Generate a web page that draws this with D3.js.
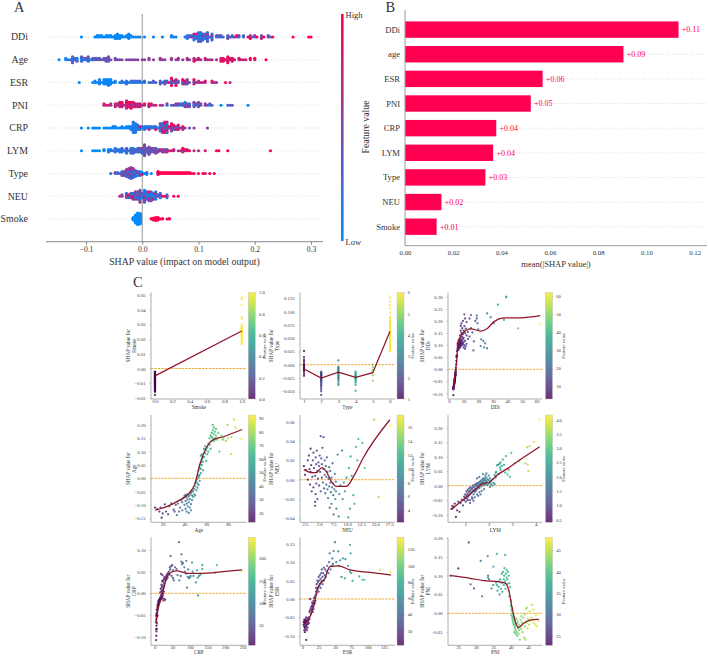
<!DOCTYPE html>
<html>
<head>
<meta charset="utf-8">
<script src="https://cdnjs.cloudflare.com/ajax/libs/d3/7.8.5/d3.min.js"></script>
<style>
html,body{margin:0;padding:0;background:#fff}
svg{display:block}
text{font-family:"Liberation Serif",serif;fill:#333}
</style>
</head>
<body>
<svg id="fig" width="708" height="656"></svg>
<script>
// Feature names, ordered by importance
const featureOrder = ["DDi","Age","ESR","PNI","CRP","LYM","Type","NEU","Smoke"];
const barOrder = ["DDi","age","ESR","PNI","CRP","LYM","Type","NEU","Smoke"];
const meanShap = [0.1133,0.0905,0.0570,0.0521,0.0378,0.0365,0.0333,0.0151,0.0131];
const swarmTicks = [-0.1,0,0.1,0.2,0.3];
const barTicks = [0,0.02,0.04,0.06,0.08,0.10,0.12];

// Per-sample [feature value, SHAP value]
const ddiPoints = [[3,-.107],[3,-.083],[3,-.081],[3,-.079],[3,-.077],[3,-.075],[3.2,-.073],[3.2,-.071],[3.3,-.069],[3.3,-.066],[3.5,-.064],[3.5,-.062],[3.6,-.06],[3.6,-.058],[3.8,-.056],[3.8,-.053],[3.8,-.05],[3.9,-.048],[4,-.047],[4,-.046],[4,-.045],[4,-.044],[4,-.043],[4,-.042],[4,-.041],[4,-.04],[4.1,-.038],[4.1,-.036],[4.2,-.034],[4.2,-.03],[4.3,-.027],[4.3,-.026],[4.3,-.025],[4.3,-.024],[4.3,-.023],[4.4,-.022],[4.4,-.02],[4.5,-.016],[4.5,-.014],[4.5,-.01],[4.7,-.005],[4.8,.005],[5,.02],[5,.035],[5.2,.05],[5.2,.052],[5.3,.055],[5.4,.058],[5.5,.075],[6,.08],[6,.085],[6,.092],[6,.098],[6,.103],[6,.108],[6.5,.08],[6.5,.09],[6.5,.1],[6.5,.105],[6.5,.112],[6.5,.118],[7,.088],[7,.095],[7,.1],[7,.103],[7,.107],[7,.115],[7,.125],[7.5,.09],[7.5,.098],[7.5,.105],[7.5,.11],[7.5,.12],[7.5,.14],[8,.095],[8,.1],[8,.104],[8,.108],[8,.115],[8,.13],[8,.16],[8,.18],[8.5,.11],[8.5,.122],[8.5,.15],[8.5,.19],[9,.1],[9,.108],[9,.118],[9,.135],[9,.17],[9.5,.105],[9.5,.125],[9.5,.145],[9.5,.2],[10,.09],[10,.112],[10,.13],[10,.16],[10.5,.1],[10.5,.178],[10.5,.227],[11,.085],[11,.118],[11,.15],[11,.21],[11.5,.095],[11.5,.168],[12,.105],[12,.14],[12,.195],[13,.125],[13,.155],[14,.135],[14,.21],[15,.224],[15,.17],[16,.152],[16.7,.078],[17,.115],[18,.2],[19,.222],[19,.21],[19.5,.19],[20,.165],[21.7,.096],[22,.124],[23.5,.117],[24,.091],[24.7,.107],[26,.087],[26,.231],[28.5,.215],[30.8,.19],[37.6,.204],[33.5,.267],[39,.297],[39.2,.3],[47.3,.169],[62,.189]];
const agePoints = [[13,-.11],[15,-.116],[17,-.125],[18,-.11],[19,-.148],[20,-.132],[22,-.098],[23,-.125],[25,-.135],[26,-.105],[28,-.094],[30,-.118],[31,-.125],[32,-.1],[33,-.138],[34,-.095],[35,-.125],[36,-.11],[37,-.083],[38,-.12],[38,-.09],[39,-.075],[40,-.1],[40,-.066],[41,-.115],[41,-.085],[41,-.062],[42,-.125],[42,-.095],[42,-.072],[43,-.105],[43,-.08],[43,-.06],[44,-.13],[44,-.09],[44,-.068],[45,-.11],[45,-.078],[45,-.062],[46,-.097],[46,-.12],[46,-.055],[47,-.082],[47,-.065],[47,-.05],[48,-.07],[48,-.048],[49,-.06],[49,-.04],[50,-.065],[50,-.03],[50,-.018],[51,-.045],[51,-.012],[52,-.035],[52,-.02],[52,-.002],[53,-.025],[53,.005],[53,.01],[53,.03],[54,-.01],[54,.012],[54,.04],[54,.05],[55,.02],[55,.06],[55,.035],[55,.085],[56,.05],[56,.07],[56,.09],[57,.03],[57,.062],[57,.078],[58,.08],[58,.11],[59,.095],[59,.12],[60,.105],[60,.065],[61,.115],[61,.09],[62,.13],[62,.1],[63,.15],[63,.125],[64,.16],[64,.11],[65,.17],[65,.14],[65,.155],[66,.18],[66,.15],[66,.2],[67,.19],[67,.165],[67,.14],[68,.175],[68,.15],[68,.145],[69,.16],[69,.185],[70,.145],[71,.17],[72,.1],[74,.16],[75,.145],[76,.15],[78,.14],[79.6,.2],[80,.15],[82.7,.091],[83,.155],[85.7,.221],[87,.19],[92.5,.1475]];
const esrPoints = [[2,-.062],[2,-.07],[3,-.056],[3,-.065],[3,-.075],[3,-.085],[4,-.06],[4,-.068],[4,-.078],[4,-.09],[5,-.055],[5,-.063],[5,-.072],[5,-.082],[6,-.05],[6,-.06],[6,-.066],[6,-.075],[6,-.111],[7,-.058],[7,-.07],[7,-.085],[8,-.053],[8,-.062],[8,-.078],[9,-.06],[9,-.068],[10,-.05],[10,-.065],[11,-.055],[12,0],[11,-.035],[12,-.03],[13,-.025],[13,-.04],[14,-.02],[14,-.032],[15,-.018],[15,-.028],[15,-.01],[16,-.022],[16,-.012],[16,-.035],[17,-.015],[17,-.005],[17,-.027],[18,-.01],[18,.002],[19,-.012],[19,.005],[20,.01],[20,-.005],[21,.02],[21,.03],[22,.015],[22,.04],[23,.025],[23,.05],[24,.03],[24,.045],[25,.02],[25,.06],[26,.035],[26,.05],[27,.04],[27,.065],[28,.03],[28,.055],[29,.045],[29,.07],[30,.05],[30,.08],[31,.04],[31,.06],[32,.07],[33,.05],[33,.085],[34,.065],[35,.08],[36,.06],[37,.075],[38,.09],[40,.07],[41,.1],[42,.124],[43,.08],[45,.09],[46,.11],[47,.095],[48,.13],[50,.154],[52,.1],[55,.129],[56,.09],[58,.105],[60,.06],[62,.11],[65,.056],[66,.108],[70,.09],[73,.147],[74,.124],[73,.074],[75,.07],[77,.049],[87,.061],[92,.052],[95,.052],[119,.079],[135,.074]];
const pniPoints = [[22.8,.1],[25,.119],[28,.188],[28.5,.077],[29.5,.066],[31.4,.139],[31.8,.045],[33.4,.152],[33.5,.1],[33.5,.095],[33.8,.09],[34.5,.066],[35,.124],[35,.075],[36,.158],[35.8,.082],[36,.075],[36.2,.06],[36.5,.07],[36.6,.085],[36.8,.05],[37,.09],[37.2,.065],[37.4,.105],[37.4,.08],[37.6,.057],[37.8,.11],[38,.09],[38,.075],[38.1,.1],[38.2,.12],[38.4,.155],[38.4,.085],[38.5,.065],[38.6,.105],[38.8,.115],[38.8,.095],[39,.078],[39,.09],[39.2,.11],[39.4,.06],[39.4,.1],[39.5,.045],[39.6,.08],[39.8,.07],[40,.035],[40,.02],[40.1,.03],[40.2,.01],[40.2,-.005],[40.3,.005],[40.4,-.01],[40.4,.015],[40.5,-.015],[40.5,-.02],[40.6,-.002],[40.7,-.025],[40.8,-.008],[40.8,-.03],[41,-.012],[41,-.035],[41,-.05],[41.1,-.02],[41.2,-.04],[41.2,-.028],[41.4,-.045],[41.4,-.055],[41.5,-.033],[41.6,-.015],[41.7,-.05],[41.8,-.027],[41.8,-.06],[42,-.04],[42,-.022],[42.2,-.055],[42.2,-.035],[42.4,-.045],[42.5,-.03],[42.6,-.07],[42.8,-.018],[43,-.042],[43,-.008],[43.2,-.025],[43.4,-.05],[43.5,-.012],[43.8,-.065],[44,-.035],[44,-.003],[44.2,-.07],[44.3,.012],[44.5,-.025],[44.6,.015],[44.8,-.04],[45,-.015],[45.2,-.03],[45.4,.005],[45.6,-.02],[46,.022],[46,-.012],[46.3,.01],[46.5,-.025],[47,-.03],[47.2,-.005],[47.5,-.035],[48,-.02]];
const crpPoints = [[4,-.108],[4.5,-.098],[5,-.088],[4,-.083],[5,-.075],[6,-.082],[6,-.07],[5,-.066],[5,-.06],[6,-.055],[7,-.05],[4,-.052],[5,-.048],[6,-.045],[7,-.04],[6,-.038],[8,-.052],[9,-.035],[8,-.032],[10,-.03],[8,-.028],[9,-.025],[11,-.025],[12,-.022],[10,-.02],[13,-.02],[11,-.018],[14,-.017],[12,-.016],[15,-.016],[13,-.015],[16,-.015],[14,-.014],[17,-.014],[18,-.013],[15,-.012],[19,-.013],[20,-.012],[16,-.01],[21,-.01],[17,-.009],[22,-.008],[25,-.017],[27,-.013],[30,-.015],[18,-.005],[23,-.004],[20,-.002],[24,0],[16,.002],[19,.004],[26,.004],[21,.006],[23,.008],[17,.01],[25,.012],[20,.014],[27,.016],[23,.018],[19,.02],[28,.022],[25,.025],[21,.028],[24,.03],[29,.032],[26,.034],[18,.045],[22,.042],[28,.038],[31,.036],[33,.04],[30,.03],[35,.042],[34,.033],[36,.045],[38,.046],[37,.037],[40,.05],[42,.043],[44,.055],[43,.06],[45,.086],[47,.063],[50,.065],[52,.053],[48,.04],[52,.035],[54,.03],[58,.06],[62,.056],[65,.042],[69,.118],[70,.03],[74,.04],[76,.09],[76,.073],[78,.067],[80,.07],[84,.06],[86,.05],[90,.075],[90,.045],[92,.013],[94,.038],[95,.055],[97,.035],[100,.037],[102,.04],[106,.071],[108,.05],[110,.04],[117,.025],[120,.053],[122,.036],[123,-.005],[126,.04],[130,.043],[135,.065],[135,.056],[177,.065],[172,.047],[248,.052]];
const lymPoints = [[.41,-.08],[.45,-.07],[.5,-.075],[.55,-.062],[.6,-.108],[.65,-.085],[.7,-.055],[.75,-.09],[.8,-.06],[.85,-.048],[.9,-.068],[.95,-.038],[.95,-.05],[1,-.042],[1,-.03],[1.02,-.055],[1.05,-.02],[1.05,-.035],[1.08,-.045],[1.1,-.015],[1.1,-.028],[1.1,-.05],[1.12,-.038],[1.15,-.022],[1.15,-.01],[1.18,-.032],[1.2,-.018],[1.2,-.05],[1.2,-.06],[1.22,-.005],[1.25,-.026],[1.25,-.012],[1.28,-.04],[1.3,-.02],[1.3,-.008],[1.3,-.045],[1.32,0],[1.35,-.015],[1.35,-.03],[1.35,-.052],[1.38,-.005],[1.4,-.022],[1.4,.003],[1.4,-.04],[1.42,-.01],[1.45,-.018],[1.45,.005],[1.48,-.002],[1.5,-.012],[1.5,.008],[1.5,-.03],[1.5,.025],[1.52,.001],[1.55,-.006],[1.55,.01],[1.55,-.035],[1.58,.004],[1.6,-.008],[1.6,.012],[1.6,-.022],[1.6,.03],[1.62,.002],[1.65,.016],[1.65,.007],[1.65,-.03],[1.68,-.002],[1.7,.02],[1.7,.01],[1.7,-.018],[1.72,.004],[1.75,.014],[1.75,.024],[1.75,.04],[1.78,.008],[1.8,.018],[1.8,.002],[1.8,-.012],[1.82,.026],[1.85,.01],[1.85,.02],[1.85,.035],[1.88,.005],[1.9,.016],[1.9,.028],[1.9,.042],[1.92,.012],[1.95,.022],[1.95,.002],[2,.008],[2,.018],[2,.035],[2.05,.012],[2.05,.025],[2.05,-.005],[2.1,.005],[2.1,.016],[2.15,.022],[2.15,0],[2.2,.01],[2.25,.036],[2.25,.005],[2.3,.028],[2.3,.045],[2.32,.048],[2.35,.07],[2.4,.072],[2.42,.04],[2.45,.075],[2.48,.062],[2.5,.055],[2.5,.08],[2.55,.068],[2.6,.09],[2.65,.072],[2.7,.045],[2.73,.102],[2.8,.038],[2.85,.055],[2.9,.03],[2.96,.113],[3.1,.078],[3.3,.085],[3.56,.077],[3.66,.073],[3.69,.05],[3.63,.132],[3.74,.136],[3.93,.151],[4.16,.228]];
const typePoints = [[1,.026],[1,.014],[1,.009],[1,.006],[1,.002],[1,0],[1,-.002],[1,-.004],[1,-.006],[1,-.007],[1,-.009],[1,-.011],[1,-.013],[1,-.017],[1,-.021],[2,-.013],[2,-.015],[2,-.016],[2,-.017],[2,-.018],[2,-.019],[2,-.02],[2,-.021],[2,-.022],[2,-.023],[2,-.024],[2,-.025],[2,-.026],[2,-.027],[2,-.028],[2,-.029],[2,-.03],[2,-.032],[2,-.034],[2,-.036],[2,-.038],[2,-.04],[2,-.043],[2,-.046],[2,-.05],[2,-.057],[3,.008],[3,-.004],[3,-.006],[3,-.008],[3,-.01],[3,-.012],[3,-.014],[3,-.015],[3,-.016],[3,-.018],[3,-.02],[3,-.022],[3,-.024],[3,-.026],[3,-.028],[3,-.031],[3,-.035],[3,-.038],[4,-.013],[4,-.015],[4,-.017],[4,-.019],[4,-.02],[4,-.021],[4,-.022],[4,-.023],[4,-.024],[4,-.025],[4,-.026],[4,-.027],[4,-.029],[4,-.031],[4,-.034],[4,-.038],[4,-.049],[5,0],[5,-.005],[5,-.01],[5,-.014],[5,-.02],[5,-.03],[6,.026],[6,.027],[6,.029],[6,.03],[6,.032],[6,.034],[6,.036],[6,.038],[6,.04],[6,.042],[6,.044],[6,.046],[6,.048],[6,.05],[6,.052],[6,.054],[6,.056],[6,.058],[6,.06],[6,.062],[6,.064],[6,.066],[6,.068],[6,.07],[6,.072],[6,.074],[6,.076],[6,.078],[6,.08],[6,.082],[6,.085],[6,.088],[6,.09],[6,.098],[6,.106],[6,.112],[6,.119],[6,.126]];
const neuPoints = [[2.3,.014],[2.5,.005],[2.7,.01],[3,.02],[3,0],[3.2,.025],[3.3,.011],[3.4,-.005],[3.5,.032],[3.5,.008],[3.6,.015],[3.7,-.012],[3.8,.003],[3.9,.02],[4,.028],[4,-.008],[4.1,.012],[4.3,-.023],[4.3,-.027],[4.3,.004],[4.4,.023],[4.4,-.015],[4.5,.016],[4.5,-.004],[4.6,.03],[4.7,.009],[4.7,-.02],[4.8,.001],[4.9,.018],[5,.014],[5,-.006],[5.1,.025],[5.3,.045],[5.2,.008],[5.3,-.012],[5.4,.022],[5.5,.002],[5.5,.016],[5.6,.033],[5.8,.044],[5.7,-.003],[5.8,.011],[5.9,-.009],[6,.02],[6,.005],[6.1,-.014],[6.2,.014],[6.3,.003],[6.3,-.005],[6.4,.023],[6.5,-.01],[6.5,.008],[6.6,-.019],[6.7,.001],[6.8,-.007],[6.8,.013],[6.9,-.029],[7,-.003],[7,.009],[7.1,-.013],[7.2,.002],[7.2,-.025],[7.3,-.008],[7.4,.017],[7.5,-.004],[7.5,-.016],[7.6,-.036],[7.7,-.01],[7.8,.006],[7.9,-.02],[8,-.012],[8,-.002],[8.1,-.03],[8.3,.026],[8.5,-.038],[8.6,-.015],[8.8,-.006],[9.1,.03],[9.2,-.02],[9.4,-.003],[9.6,-.012],[9.9,.002],[10.2,-.039],[10.3,.012],[10.5,-.03],[10.6,.024],[10.8,.004],[11.1,-.016],[11.3,-.025],[11.6,.034],[11.8,.02],[12,.042],[12.7,.038],[13.1,.012],[14.8,.062],[15.6,-.018],[17.7,.056]];
const smokePoints = [[0,-.018],[0,-.0158],[0,-.0155],[0,-.015],[0,-.0147],[0,-.0144],[0,-.014],[0,-.0137],[0,-.0134],[0,-.013],[0,-.013],[0,-.0127],[0,-.0124],[0,-.012],[0,-.012],[0,-.0117],[0,-.0115],[0,-.0112],[0,-.011],[0,-.011],[0,-.0107],[0,-.0105],[0,-.0102],[0,-.01],[0,-.01],[0,-.0098],[0,-.0096],[0,-.0094],[0,-.0092],[0,-.009],[0,-.009],[0,-.0088],[0,-.0086],[0,-.0084],[0,-.0082],[0,-.008],[0,-.008],[0,-.0078],[0,-.0076],[0,-.0074],[0,-.0072],[0,-.007],[0,-.007],[0,-.0068],[0,-.0066],[0,-.0064],[0,-.0062],[0,-.006],[0,-.006],[0,-.0058],[0,-.0056],[0,-.0054],[0,-.0052],[0,-.005],[0,-.005],[0,-.0048],[0,-.0046],[0,-.0044],[0,-.0042],[0,-.004],[0,-.0038],[0,-.0036],[0,-.0034],[0,-.0032],[0,-.003],[0,-.0028],[0,-.0026],[0,-.0024],[0,-.0022],[1,.0166],[1,.0175],[1,.018],[1,.019],[1,.02],[1,.0205],[1,.021],[1,.022],[1,.0225],[1,.023],[1,.024],[1,.0245],[1,.025],[1,.0255],[1,.026],[1,.0265],[1,.027],[1,.0275],[1,.028],[1,.029],[1,.03],[1,.034],[1,.035],[1,.043],[1,.047],[1,.0484]];

// Smoothed trend of each dependence plot
const ddiTrend = [[3,-.085],[3.5,-.05],[4.5,0],[5.5,.05],[5.9,.094],[9.3,.149],[14.9,.167],[21.7,.158],[26.2,.169],[30.8,.197],[37.6,.212],[48.9,.213],[62.4,.222]];
const ageTrend = [[13,-.12],[23.7,-.106],[36,-.081],[43.5,-.059],[49.7,-.019],[54,.05],[59,.106],[66,.144],[75.7,.156],[93,.183]];
const esrTrend = [[2.5,-.066],[9,-.057],[17,-.023],[24.5,.034],[34.7,.056],[42,.088],[55,.09],[73,.079],[103.6,.072],[135.7,.065]];
const pniTrend = [[23,.1],[28.4,.093],[32.2,.087],[36.5,.084],[38.4,.08],[39.4,.062],[40.3,.018],[41.3,-.022],[42.2,-.038],[43.6,-.027],[45.5,-.018],[48,-.016]];
const crpTrend = [[3,-.069],[10,-.035],[20,-.008],[29,.023],[41.5,.046],[62,.052],[95,.046],[128,.046],[194,.05],[248,.054]];
const lymTrend = [[.41,-.081],[.99,-.043],[1.49,-.009],[1.74,.008],[2.03,.011],[2.41,.04],[2.91,.065],[3.41,.094],[4.17,.134]];
const typeTrend = [[1,-.008],[2,-.025],[3,-.014],[4,-.024],[5,-.015],[6,.063]];
const neuTrend = [[2.3,.0104],[3.7,.0073],[4.5,.0073],[5.5,.0124],[6.3,.0083],[7.2,-.002],[8.1,-.007],[9.8,-.007],[11.3,.005],[12.8,.022],[17.6,.062]];
const smokeTrend = [[0,-.005],[1,.0255]];

// Tick labels of the dependence plots
const smokeXTicks = [0,.2,.4,.6,.8,1], smokeYTicks = [.05,.04,.03,.02,.01,0,-.01,-.02], smokeBarTicks = [0,.2,.4,.6,.8,1];
const typeXTicks = [1,2,3,4,5,6], typeYTicks = [.125,.1,.075,.05,.025,0,-.025,-.05], typeBarTicks = [1,2,3,4,5,6];
const ddiXTicks = [0,10,20,30,40,50,60], ddiYTicks = [.3,.25,.2,.15,.1,.05,0,-.05,-.1], ddiBarTicks = [10,20,30,40,50,60];
const ageXTicks = [20,40,60,80], ageYTicks = [.2,.15,.1,.05,0,-.05,-.1,-.15], ageBarTicks = [20,30,40,50,60,70,80,90];
const neuXTicks = [2.5,5,7.5,10,12.5,15,17.5], neuYTicks = [.06,.04,.02,0,-.02,-.04], neuBarTicks = [4,6,8,10,12,14,16];
const lymXTicks = [1,2,3,4], lymYTicks = [.2,.15,.1,.05,0,-.05,-.1], lymBarTicks = [.5,1,1.5,2,2.5,3,3.5,4];
const crpXTicks = [0,50,100,150,200,250], crpYTicks = [.1,.05,0,-.05,-.1], crpBarTicks = [50,100,150,200];
const esrXTicks = [0,25,50,75,100,125], esrYTicks = [.15,.1,.05,0,-.05,-.1], esrBarTicks = [20,40,60,80,100,120];
const pniXTicks = [25,30,35,40,45], pniYTicks = [.2,.15,.1,.05,0,-.05], pniBarTicks = [25,30,35,40,45];

const swarmData = {DDi:ddiPoints,Age:agePoints,ESR:esrPoints,PNI:pniPoints,CRP:crpPoints,LYM:lymPoints,Type:typePoints,NEU:neuPoints,Smoke:smokePoints};

const svg = d3.select("#fig");
const PINK = "#ff0051", BLUE = "#008bfb", AXIS = "#999";
const shapMap = d3.interpolateRgb(BLUE,PINK);
const minus = s => s.replace("-","\u2212");

function panelLetter(t,x,y){
  svg.append("text").attr("x",x).attr("y",y).attr("font-size",14.5).text(t);
}

/* ---------- A: beeswarm summary ---------- */
(function(){
  const x = d3.scaleLinear().domain([-0.1,0.3]).range([86,311]);
  const y = d3.scalePoint().domain(featureOrder).range([37,219]);
  const g = svg.append("g");
  panelLetter("A",14,12);

  featureOrder.forEach(f=>{
    g.append("line").attr("x1",46).attr("x2",323).attr("y1",y(f)).attr("y2",y(f))
      .attr("stroke","#ccc").attr("stroke-width",.7).attr("stroke-dasharray","1 2");
  });
  g.append("line").attr("x1",x(0)).attr("x2",x(0)).attr("y1",14).attr("y2",242)
    .attr("stroke","#999").attr("stroke-width",1);

  featureOrder.forEach(f=>{
    const pts = swarmData[f].slice().sort((a,b)=>a[1]-b[1]);
    const vals = pts.map(p=>p[0]).slice().sort(d3.ascending);
    let lo = d3.quantile(vals,.05), hi = d3.quantile(vals,.95);
    if(lo===hi){lo=vals[0];hi=vals[vals.length-1];}
    const c = v=>shapMap(Math.max(0,Math.min(1,(v-lo)/(hi-lo))));
    // Stack samples that fall in the same horizontal bin, alternating above and below the row
    const binWidth = 0.004;
    let layer=0,last=null,maxO=0;
    const placed = pts.map(p=>{
      const b = Math.round(p[1]/binWidth);
      if(b!==last){layer=0;last=b;}
      const off = Math.ceil(layer/2)*(layer%2?-1:1);
      layer++;
      maxO=Math.max(maxO,Math.abs(off));
      return {v:p[0],s:b*binWidth,off};
    });
    const step = Math.min(1.5,6/Math.max(1,maxO));
    g.append("g").selectAll("circle").data(placed).join("circle")
      .attr("cx",d=>x(d.s)).attr("cy",d=>y(f)+d.off*step).attr("r",1.6)
      .attr("fill",d=>c(d.v));
  });

  const ax = d3.axisBottom(x).tickValues(swarmTicks).tickSize(3).tickSizeOuter(0).tickFormat(d=>minus(d3.format(".1f")(d)));
  const ag = g.append("g").attr("transform","translate(0,241.7)").call(ax);
  ag.select(".domain").remove();
  ag.append("line").attr("x1",46).attr("x2",323).attr("stroke","#888").attr("stroke-width",1);
  ag.selectAll(".tick line").attr("stroke","#888");
  ag.selectAll("text").attr("font-size",7.6).attr("dy",".55em");
  g.append("text").attr("x",184.5).attr("y",265).attr("text-anchor","middle").attr("font-size",9.8).text("SHAP value (impact on model output)");
  featureOrder.forEach(f=>{
    g.append("text").attr("x",28).attr("y",y(f)+3.4).attr("text-anchor","end").attr("font-size",9.9).text(f);
  });

  const grad = svg.append("defs").append("linearGradient").attr("id","shapbar").attr("x1",0).attr("x2",0).attr("y1",1).attr("y2",0);
  d3.range(0,1.01,.1).forEach(t=>grad.append("stop").attr("offset",t).attr("stop-color",shapMap(t)));
  g.append("rect").attr("x",341).attr("y",14).attr("width",2.6).attr("height",227).attr("fill","url(#shapbar)");
  g.append("text").attr("x",345.5).attr("y",17.5).attr("font-size",8.5).text("High");
  g.append("text").attr("x",345.5).attr("y",245).attr("font-size",8.5).text("Low");
  g.append("text").attr("transform","translate(369,127) rotate(-90)").attr("text-anchor","middle").attr("font-size",9.8).text("Feature value");
})();

/* ---------- B: mean absolute SHAP bars ---------- */
(function(){
  const x = d3.scaleLinear().domain([0,0.12]).range([405,694.7]);
  const y = d3.scalePoint().domain(barOrder).range([29.6,226.7]);
  const g = svg.append("g");
  panelLetter("B",385.5,12);

  barOrder.forEach(f=>{
    g.append("line").attr("x1",405).attr("x2",707).attr("y1",y(f)).attr("y2",y(f))
      .attr("stroke","#ccc").attr("stroke-width",.7).attr("stroke-dasharray","1 2");
  });
  g.selectAll("rect.bar").data(barOrder).join("rect").attr("class","bar")
    .attr("x",x(0)).attr("y",f=>y(f)-8.2).attr("height",16.4)
    .attr("width",(f,i)=>x(meanShap[i])-x(0)).attr("fill",PINK);
  g.selectAll("text.val").data(barOrder).join("text").attr("class","val")
    .attr("x",(f,i)=>x(meanShap[i])+3.3).attr("y",f=>y(f)+2.8)
    .attr("font-size",8).style("fill",PINK)
    .text((f,i)=>d3.format("+.2f")(meanShap[i]));
  g.selectAll("text.cat").data(barOrder).join("text").attr("class","cat")
    .attr("x",400).attr("y",f=>y(f)+3).attr("text-anchor","end").attr("font-size",8.6).text(f=>f);

  g.append("line").attr("x1",405).attr("x2",405).attr("y1",10).attr("y2",245.7).attr("stroke",AXIS).attr("stroke-width",1);
  const ag = g.append("g").attr("transform","translate(0,245.7)")
    .call(d3.axisBottom(x).tickValues(barTicks).tickSize(0).tickFormat(d3.format(".2f")));
  ag.select(".domain").remove();
  ag.append("line").attr("x1",405).attr("x2",707).attr("stroke",AXIS).attr("stroke-width",1);
  ag.selectAll("text").attr("font-size",6.8).attr("dy",".9em");
  g.append("text").attr("x",556).attr("y",267).attr("text-anchor","middle").attr("font-size",8.5).text("mean(|SHAP value|)");
})();

/* ---------- C: dependence plots ---------- */
panelLetter("C",133,287);

const COLS = [{l:151,r:246.7,cb:248.3,yl:132,fl:266},{l:300,r:395,cb:397,yl:275.5,fl:414},{l:448,r:542.5,cb:545.5,yl:426,fl:565}];
const ROWS = [{t:292.5,b:399,lab:408.5},{t:415,b:522.3,lab:531.5},{t:537.3,b:645.3,lab:654}];

function dependence(o){
  const col = COLS[o.col], row = ROWS[o.row];
  const x = d3.scaleLinear().domain(o.xDom).range(o.xPix);
  const y = d3.scaleLinear().domain(o.yDom).range(o.yPix);
  const ext = d3.extent(o.points,p=>p[0]);
  const color = d3.scaleSequential(d3.interpolateViridis).domain(ext);
  const g = svg.append("g");

  g.append("line").attr("x1",col.l).attr("x2",col.r).attr("y1",y(0)).attr("y2",y(0))
    .attr("stroke","#f0a020").attr("stroke-width",.9).attr("stroke-dasharray","2.4 1");
  g.append("g").selectAll("circle").data(o.points).join("circle")
    .attr("cx",p=>x(p[0])).attr("cy",p=>y(p[1])).attr("r",1.15)
    .attr("fill",p=>color(p[0])).attr("fill-opacity",.8);
  g.append("path").datum(o.trend)
    .attr("d",d3.line().x(p=>x(p[0])).y(p=>y(p[1])).curve(o.linear?d3.curveLinear:d3.curveMonotoneX))
    .attr("fill","none").attr("stroke","#8f1528").attr("stroke-width",1.25);

  const ay = g.append("g").attr("transform",`translate(${col.l},0)`)
    .call(d3.axisLeft(y).tickValues(o.yTicks).tickSize(1.5).tickFormat(d=>minus(d3.format(o.yFmt)(d))));
  ay.select(".domain").remove();
  ay.append("line").attr("y1",row.t).attr("y2",row.b).attr("stroke",AXIS).attr("stroke-width",.8);
  ay.selectAll(".tick line").attr("stroke",AXIS).attr("stroke-width",.5);
  ay.selectAll("text").attr("font-size",4.7).attr("dx","-.2em");

  const ax = g.append("g").attr("transform",`translate(0,${row.b})`)
    .call(d3.axisBottom(x).tickValues(o.xTicks).tickSize(1.5).tickFormat(d3.format(o.xFmt)));
  ax.select(".domain").remove();
  ax.append("line").attr("x1",col.l).attr("x2",col.r).attr("stroke",AXIS).attr("stroke-width",.8);
  ax.selectAll(".tick line").attr("stroke",AXIS).attr("stroke-width",.5);
  ax.selectAll("text").attr("font-size",4.7).attr("dy","-.1em");

  g.append("text").attr("x",(col.l+col.r)/2).attr("y",row.lab).attr("text-anchor","middle").attr("font-size",5.2).text(o.name);
  const yl = g.append("text").attr("transform",`translate(${col.yl},${(row.t+row.b)/2}) rotate(-90)`).attr("text-anchor","middle").attr("font-size",5.2);
  yl.append("tspan").attr("x",0).attr("dy",-2.5).text("SHAP value for");
  yl.append("tspan").attr("x",0).attr("dy",6).text(o.name);

  // Colour bar with its own value axis
  const gid = "vir"+o.row+o.col;
  const grad = svg.append("defs").append("linearGradient").attr("id",gid).attr("x1",0).attr("x2",0).attr("y1",1).attr("y2",0);
  d3.range(0,1.01,.1).forEach(t=>grad.append("stop").attr("offset",t).attr("stop-color",d3.interpolateViridis(t)).attr("stop-opacity",.8));
  const cw = 7;
  g.append("rect").attr("x",col.cb).attr("y",row.t).attr("width",cw).attr("height",row.b-row.t)
    .attr("fill",`url(#${gid})`).attr("stroke","#bbb").attr("stroke-width",.4);
  const cs = d3.scaleLinear().domain(ext).range([row.b,row.t]);
  const ac = g.append("g").attr("transform",`translate(${col.cb+cw},0)`)
    .call(d3.axisRight(cs).tickValues(o.barTicks).tickSize(1.2).tickFormat(d3.format(o.barFmt)));
  ac.select(".domain").remove();
  ac.selectAll(".tick line").attr("stroke",AXIS).attr("stroke-width",.4);
  ac.selectAll("text").attr("font-size",4.5).attr("dx","-.1em");
  g.append("text").attr("transform",`translate(${col.fl},${(row.t+row.b)/2}) rotate(-90)`).attr("text-anchor","middle").attr("font-size",4.8).text("Feature value");
}

dependence({name:"Smoke",col:0,row:0,points:smokePoints,trend:smokeTrend,linear:true,xDom:[0,1],xPix:[155,241.7],yDom:[0,.05],yPix:[368.5,295],xTicks:smokeXTicks,yTicks:smokeYTicks,barTicks:smokeBarTicks,xFmt:".1f",yFmt:".2f",barFmt:".1f"});
dependence({name:"Type",col:1,row:0,points:typePoints,trend:typeTrend,linear:true,xDom:[1,6],xPix:[304,390],yDom:[0,.125],yPix:[364.7,298.3],xTicks:typeXTicks,yTicks:typeYTicks,barTicks:typeBarTicks,xFmt:"d",yFmt:".3f",barFmt:"d"});
dependence({name:"DDi",col:2,row:0,points:ddiPoints,trend:ddiTrend,xDom:[0,60],xPix:[449,536.7],yDom:[0,.3],yPix:[369.3,296.7],xTicks:ddiXTicks,yTicks:ddiYTicks,barTicks:ddiBarTicks,xFmt:"d",yFmt:".2f",barFmt:"d"});
dependence({name:"Age",col:0,row:1,points:agePoints,trend:ageTrend,xDom:[20,80],xPix:[162.7,228],yDom:[0,.2],yPix:[478.3,425],xTicks:ageXTicks,yTicks:ageYTicks,barTicks:ageBarTicks,xFmt:"d",yFmt:".2f",barFmt:"d"});
dependence({name:"NEU",col:1,row:1,points:neuPoints,trend:neuTrend,xDom:[2.5,17.5],xPix:[305,389.3],yDom:[0,.06],yPix:[479.7,421.7],xTicks:neuXTicks,yTicks:neuYTicks,barTicks:neuBarTicks,xFmt:".1f",yFmt:".2f",barFmt:"d"});
dependence({name:"LYM",col:2,row:1,points:lymPoints,trend:lymTrend,linear:true,xDom:[1,4],xPix:[465.3,535.7],yDom:[0,.2],yPix:[485.7,427.7],xTicks:lymXTicks,yTicks:lymYTicks,barTicks:lymBarTicks,xFmt:"d",yFmt:".2f",barFmt:".1f"});
dependence({name:"CRP",col:0,row:2,points:crpPoints,trend:crpTrend,xDom:[0,250],xPix:[154.7,242.7],yDom:[0,.1],yPix:[593.3,550],xTicks:crpXTicks,yTicks:crpYTicks,barTicks:crpBarTicks,xFmt:"d",yFmt:".2f",barFmt:"d"});
dependence({name:"ESR",col:1,row:2,points:esrPoints,trend:esrTrend,xDom:[0,125],xPix:[302.3,384],yDom:[0,.15],yPix:[599,543.7],xTicks:esrXTicks,yTicks:esrYTicks,barTicks:esrBarTicks,xFmt:"d",yFmt:".2f",barFmt:"d"});
dependence({name:"PNI",col:2,row:2,points:pniPoints,trend:pniTrend,xDom:[25,45],xPix:[458.3,528.3],yDom:[0,.2],yPix:[613.3,538],xTicks:pniXTicks,yTicks:pniYTicks,barTicks:pniBarTicks,xFmt:"d",yFmt:".2f",barFmt:"d"});
</script>
</body>
</html>
